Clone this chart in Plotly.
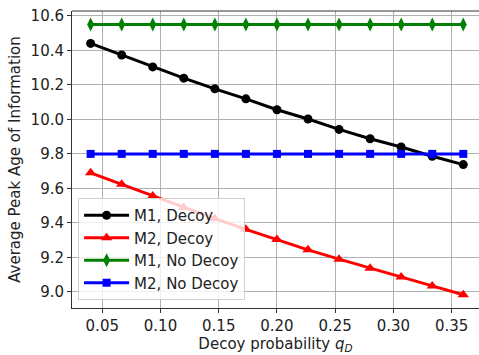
import plotly.graph_objects as go

q_values = [0.04 + k * (0.32 / 12) for k in range(13)]
m1_decoy = [10.44, 10.373, 10.304, 10.239, 10.177, 10.119, 10.056, 10.002, 9.942, 9.888, 9.84, 9.786, 9.738]
m2_decoy = [9.69, 9.624, 9.556, 9.49, 9.425, 9.363, 9.304, 9.244, 9.190, 9.137, 9.086, 9.035, 8.984]
m1_nodecoy = [10.55] * 13
m2_nodecoy = [9.80] * 13
x_ticks = [0.05, 0.10, 0.15, 0.20, 0.25, 0.30, 0.35]
y_ticks = [9.0, 9.2, 9.4, 9.6, 9.8, 10.0, 10.2, 10.4, 10.6]

series = [
    ("M1, Decoy", m1_decoy, "black", "circle", 9),
    ("M2, Decoy", m2_decoy, "red", "triangle-up", 10),
    ("M1, No Decoy", m1_nodecoy, "green", "diamond-tall", 10),
    ("M2, No Decoy", m2_nodecoy, "blue", "square", 8),
]

fig = go.Figure()
for name, ys, color, sym, sz in series:
    fig.add_trace(go.Scatter(
        x=q_values, y=ys, name=name, mode="lines+markers",
        line=dict(color=color, width=3),
        marker=dict(symbol=sym, size=sz, color=color),
    ))

font = dict(family="DejaVu Sans", size=15, color="#222")
axis_common = dict(
    showgrid=True, gridcolor="#b0b0b0", gridwidth=0.8,
    showline=True, linecolor="#333", linewidth=1,
    ticks="outside", ticklen=4, tickcolor="#333",
    zeroline=False, tickfont=font,
)
fig.update_layout(
    width=479, height=355,
    margin=dict(l=72, r=0, t=11, b=47),
    plot_bgcolor="white", paper_bgcolor="white",
    font=font,
    xaxis=dict(range=[0.024, 0.3735], tickvals=x_ticks,
               ticktext=[f"{v:.2f}" for v in x_ticks],
               title=dict(text="Decoy probability <i>q</i><sub><i>D</i></sub>", font=font, standoff=4),
               mirror=False, **axis_common),
    yaxis=dict(range=[8.907, 10.628], tickvals=y_ticks,
               ticktext=[f"{v:.1f}" for v in y_ticks],
               title=dict(text="Average Peak Age of Information", font=font, standoff=6),
               **axis_common),
    legend=dict(x=0.015, y=0.027, xanchor="left", yanchor="bottom",
                bgcolor="rgba(255,255,255,0.8)", bordercolor="#d0d0d0", borderwidth=1,
                font=dict(family="DejaVu Sans", size=15, color="#222"),
                tracegroupgap=0, itemwidth=45),
    showlegend=True,
)
# top spine
fig.add_shape(type="line", xref="paper", yref="paper", x0=0, x1=1, y0=1, y1=1,
              line=dict(color="#333", width=1))

fig.write_html("out.html", config={"displayModeBar": False},
               post_script="document.body.style.margin='0';document.body.style.overflow='hidden';")
